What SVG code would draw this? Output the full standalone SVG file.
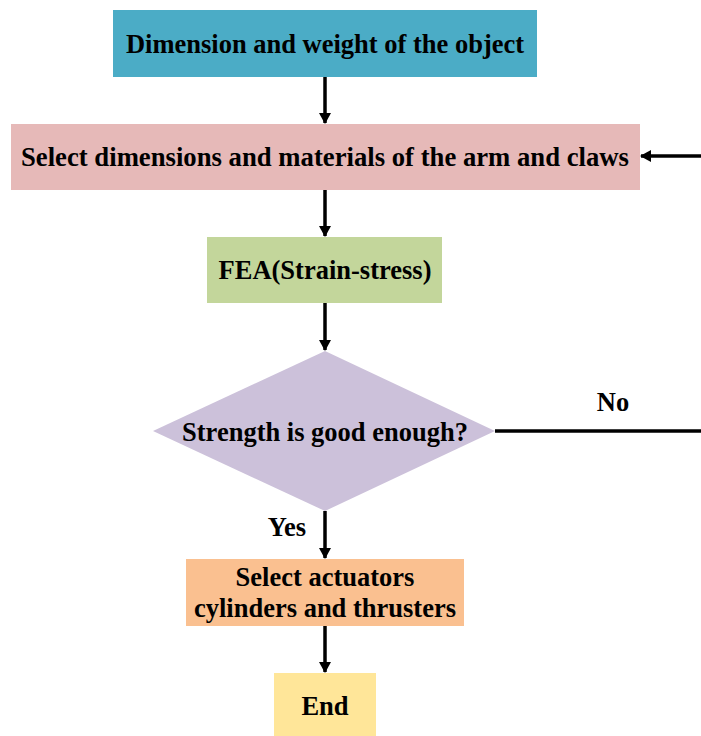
<svg xmlns="http://www.w3.org/2000/svg" width="701" height="736" viewBox="0 0 701 736">
<style>
text{font-family:"Liberation Serif","Times New Roman","DejaVu Serif",serif;font-weight:700;font-size:26.5px;fill:#000;text-anchor:middle}
.c{stroke:#000;stroke-width:3.5;fill:none}
</style>
<defs>
<marker id="ah" markerWidth="11" markerHeight="12" refX="10" refY="6" orient="auto" markerUnits="userSpaceOnUse" viewBox="0 0 11 12">
<path d="M0,0 L11,6 L0,12 z" fill="#000"/>
</marker>
</defs>
<rect width="701" height="736" fill="#fff"/>
<g id="n1"><rect x="113" y="10" width="424" height="67" fill="#4bacc6"/><text x="325" y="53">Dimension and weight of the object</text></g>
<g id="n2"><rect x="11" y="124" width="629" height="66" fill="#e6b9b8"/><text x="325" y="166" textLength="608" lengthAdjust="spacingAndGlyphs">Select dimensions and materials of the arm and claws</text></g>
<g id="n3"><rect x="207" y="237" width="235" height="66" fill="#c3d69b"/><text x="325" y="279">FEA(Strain-stress)</text></g>
<g id="n4"><polygon points="325,351 495,431 325,511 153,431" fill="#ccc1da"/><text x="325" y="441">Strength is good enough?</text></g>
<g id="n5"><rect x="186" y="559" width="278" height="67" fill="#fac090"/><text x="325" y="586">Select actuators</text><text x="325" y="617">cylinders and thrusters</text></g>
<g id="n6"><rect x="274" y="673" width="102" height="63" fill="#ffe699"/><text x="325" y="715">End</text></g>
<g id="connectors">
<line class="c" x1="325" y1="77" x2="325" y2="123" marker-end="url(#ah)"/>
<line class="c" x1="325" y1="190" x2="325" y2="236" marker-end="url(#ah)"/>
<line class="c" x1="325" y1="303" x2="325" y2="350" marker-end="url(#ah)"/>
<line class="c" x1="325" y1="511" x2="325" y2="558" marker-end="url(#ah)"/>
<line class="c" x1="325" y1="626" x2="325" y2="672" marker-end="url(#ah)"/>
<line class="c" x1="495" y1="431" x2="701" y2="431"/>
<line class="c" x1="701" y1="156" x2="641" y2="156" marker-end="url(#ah)"/>
<text x="613" y="411">No</text>
<text x="287" y="536">Yes</text>
</g>
</svg>
